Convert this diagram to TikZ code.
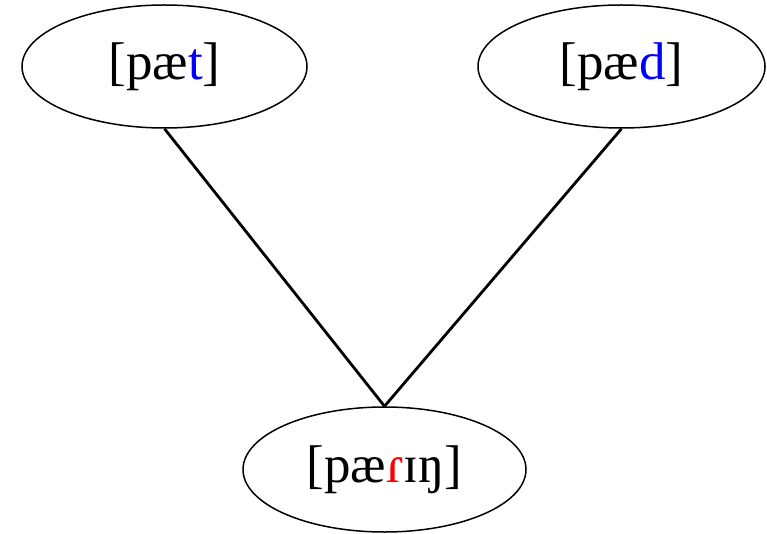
\documentclass[tikz,border=0pt]{standalone}
\usepackage{fontspec}
\setmainfont{Liberation Serif}
\usetikzlibrary{shapes.geometric}
\begin{document}
\begin{tikzpicture}[x=1pt,y=-1pt,
  word/.style={draw, ellipse, line width=1.5pt, inner sep=0pt,
    font=\fontsize{53}{60}\selectfont},
  link/.style={line width=2.8pt}]
\useasboundingbox (0,0) rectangle (767,534);
\node[word, minimum width=285pt, minimum height=123pt] (pat) at (164.5,66.5) {\raisebox{-3pt}{[pæ\textcolor{blue}{t}]}};
\node[word, minimum width=287pt, minimum height=123pt] (pad) at (621.5,66.5) {\raisebox{-3pt}{[pæ\textcolor{blue}{d}]}};
\node[word, minimum width=283pt, minimum height=125pt] (par) at (384.5,469.5) {\raisebox{-3pt}{[pæ\textcolor{red}{ɾ}ɪŋ]}};
\draw[link] (pat.south) -- (par.north);
\draw[link] (pad.south) -- (par.north);
\end{tikzpicture}
\end{document}
